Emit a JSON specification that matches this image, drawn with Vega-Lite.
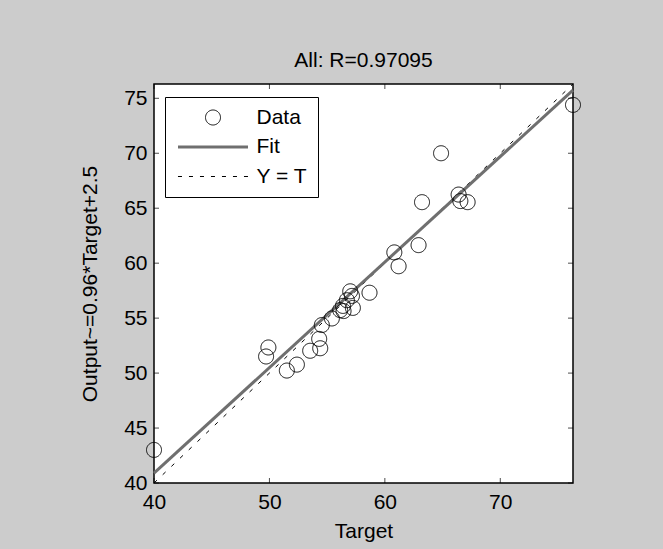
{
  "$schema": "https://vega.github.io/schema/vega-lite/v6.json",
  "width": 419,
  "height": 399,
  "padding": {"left": 79, "top": 50, "right": 90, "bottom": 10},
  "background": "#cccccc",
  "view": {"fill": "white", "stroke": "black", "strokeWidth": 1.5},
  "title": {"text": "All: R=0.97095", "fontSize": 21, "font": "Liberation Sans", "fontWeight": "normal", "color": "black", "baseline": "alphabetic", "offset": -6},
  "config": {
    "axis": {
      "grid": false,
      "labelFlush": false,
      "domain": false,
      "ticks": false,
      "tickSize": 0,
      "labelFont": "Liberation Sans",
      "labelFontSize": 21,
      "labelColor": "black",
      "titleFont": "Liberation Sans",
      "titleFontSize": 21,
      "titleFontWeight": "normal",
      "titleColor": "black"
    }
  },
  "datasets": {
    "points": [
      {"target": 40.0, "output": 43.01, "series": "Data"},
      {"target": 49.91, "output": 52.33, "series": "Data"},
      {"target": 49.71, "output": 51.51, "series": "Data"},
      {"target": 51.51, "output": 50.23, "series": "Data"},
      {"target": 52.38, "output": 50.77, "series": "Data"},
      {"target": 53.53, "output": 52.03, "series": "Data"},
      {"target": 54.31, "output": 53.11, "series": "Data"},
      {"target": 54.4, "output": 52.26, "series": "Data"},
      {"target": 54.54, "output": 54.37, "series": "Data"},
      {"target": 55.41, "output": 54.97, "series": "Data"},
      {"target": 57.0, "output": 57.44, "series": "Data"},
      {"target": 57.15, "output": 57.02, "series": "Data"},
      {"target": 56.71, "output": 56.63, "series": "Data"},
      {"target": 56.37, "output": 56.11, "series": "Data"},
      {"target": 56.42, "output": 55.64, "series": "Data"},
      {"target": 57.23, "output": 55.93, "series": "Data"},
      {"target": 56.13, "output": 55.73, "series": "Data"},
      {"target": 58.67, "output": 57.31, "series": "Data"},
      {"target": 60.82, "output": 60.98, "series": "Data"},
      {"target": 61.19, "output": 59.72, "series": "Data"},
      {"target": 62.92, "output": 61.64, "series": "Data"},
      {"target": 64.87, "output": 70.0, "series": "Data"},
      {"target": 63.22, "output": 65.55, "series": "Data"},
      {"target": 66.39, "output": 66.24, "series": "Data"},
      {"target": 66.54, "output": 65.65, "series": "Data"},
      {"target": 67.17, "output": 65.55, "series": "Data"},
      {"target": 76.3, "output": 74.4, "series": "Data"}
    ],
    "fit": [
      {"target": 40, "output": 40.9, "series": "Fit"},
      {"target": 76.3, "output": 75.75, "series": "Fit"}
    ],
    "ident": [
      {"target": 40, "output": 40, "series": "Y = T"},
      {"target": 76.3, "output": 76.3, "series": "Y = T"}
    ],
    "ticksX": [{"value": 40}, {"value": 50}, {"value": 60}, {"value": 70}],
    "ticksY": [{"value": 40}, {"value": 45}, {"value": 50}, {"value": 55}, {"value": 60}, {"value": 65}, {"value": 70}, {"value": 75}]
  },
  "layer": [
    {
      "data": {"name": "ident"},
      "mark": {"type": "line", "stroke": "black", "strokeWidth": 1, "strokeDash": [4, 8]},
      "encoding": {
        "x": {"field": "target", "type": "quantitative", "scale": {"domain": [40, 76.3], "nice": false, "zero": false},
              "axis": {"orient": "bottom", "values": [40, 50, 60, 70], "title": "Target", "labelPadding": 8, "titlePadding": 8}},
        "y": {"field": "output", "type": "quantitative", "scale": {"domain": [40, 76.3], "nice": false, "zero": false},
              "axis": {"orient": "left", "values": [40, 45, 50, 55, 60, 65, 70, 75], "title": "Output~=0.96*Target+2.5", "labelPadding": 7, "titlePadding": 23}}
      }
    },
    {
      "data": {"name": "ticksX"},
      "mark": {"type": "tick", "orient": "vertical", "color": "black", "size": 5, "thickness": 1, "yOffset": -2.5},
      "encoding": {
        "x": {"field": "value", "type": "quantitative"},
        "y": {"datum": 40, "type": "quantitative"}
      }
    },
    {
      "data": {"name": "ticksX"},
      "mark": {"type": "tick", "orient": "vertical", "color": "black", "size": 5, "thickness": 1, "yOffset": 2.5},
      "encoding": {
        "x": {"field": "value", "type": "quantitative"},
        "y": {"datum": 76.3, "type": "quantitative"}
      }
    },
    {
      "data": {"name": "ticksY"},
      "mark": {"type": "tick", "orient": "horizontal", "color": "black", "size": 5, "thickness": 1, "xOffset": 2.5},
      "encoding": {
        "y": {"field": "value", "type": "quantitative"},
        "x": {"datum": 40, "type": "quantitative"}
      }
    },
    {
      "data": {"name": "ticksY"},
      "mark": {"type": "tick", "orient": "horizontal", "color": "black", "size": 5, "thickness": 1, "xOffset": -2.5},
      "encoding": {
        "y": {"field": "value", "type": "quantitative"},
        "x": {"datum": 76.3, "type": "quantitative"}
      }
    },
    {
      "data": {"name": "fit"},
      "mark": {"type": "line", "stroke": "#6f6f6f", "strokeWidth": 3},
      "encoding": {
        "x": {"field": "target", "type": "quantitative"},
        "y": {"field": "output", "type": "quantitative"}
      }
    },
    {
      "data": {"name": "points"},
      "mark": {"type": "point", "filled": false, "size": 225, "opacity": 1},
      "encoding": {
        "x": {"field": "target", "type": "quantitative"},
        "y": {"field": "output", "type": "quantitative"},
        "stroke": {
          "field": "series", "type": "nominal",
          "scale": {"domain": ["Data", "Fit", "Y = T"], "range": ["black", "#6f6f6f", "black"]}
        },
        "strokeDash": {
          "field": "series", "type": "nominal",
          "scale": {"domain": ["Data", "Fit", "Y = T"], "range": [[1, 0], [1, 0], [4, 7]]}
        },
        "strokeWidth": {
          "field": "series", "type": "nominal",
          "scale": {"type": "ordinal", "domain": ["Data", "Fit", "Y = T"], "range": [1, 3, 1]}
        },
        "shape": {
          "field": "series", "type": "nominal",
          "scale": {"domain": ["Data", "Fit", "Y = T"], "range": ["circle", "M-4.67,0H4.67", "M-4.67,0H4.67"]},
          "legend": {
            "orient": "none", "legendX": 11, "legendY": 13,
            "title": null,
            "strokeColor": "black", "fillColor": "white", "cornerRadius": 0,
            "padding": 10,
            "symbolSize": 225,
            "symbolOffset": 27.5,
            "labelOffset": 33,
            "rowPadding": 7.5,
            "labelFont": "Liberation Sans", "labelFontSize": 21, "labelColor": "black"
          }
        }
      }
    }
  ]
}
